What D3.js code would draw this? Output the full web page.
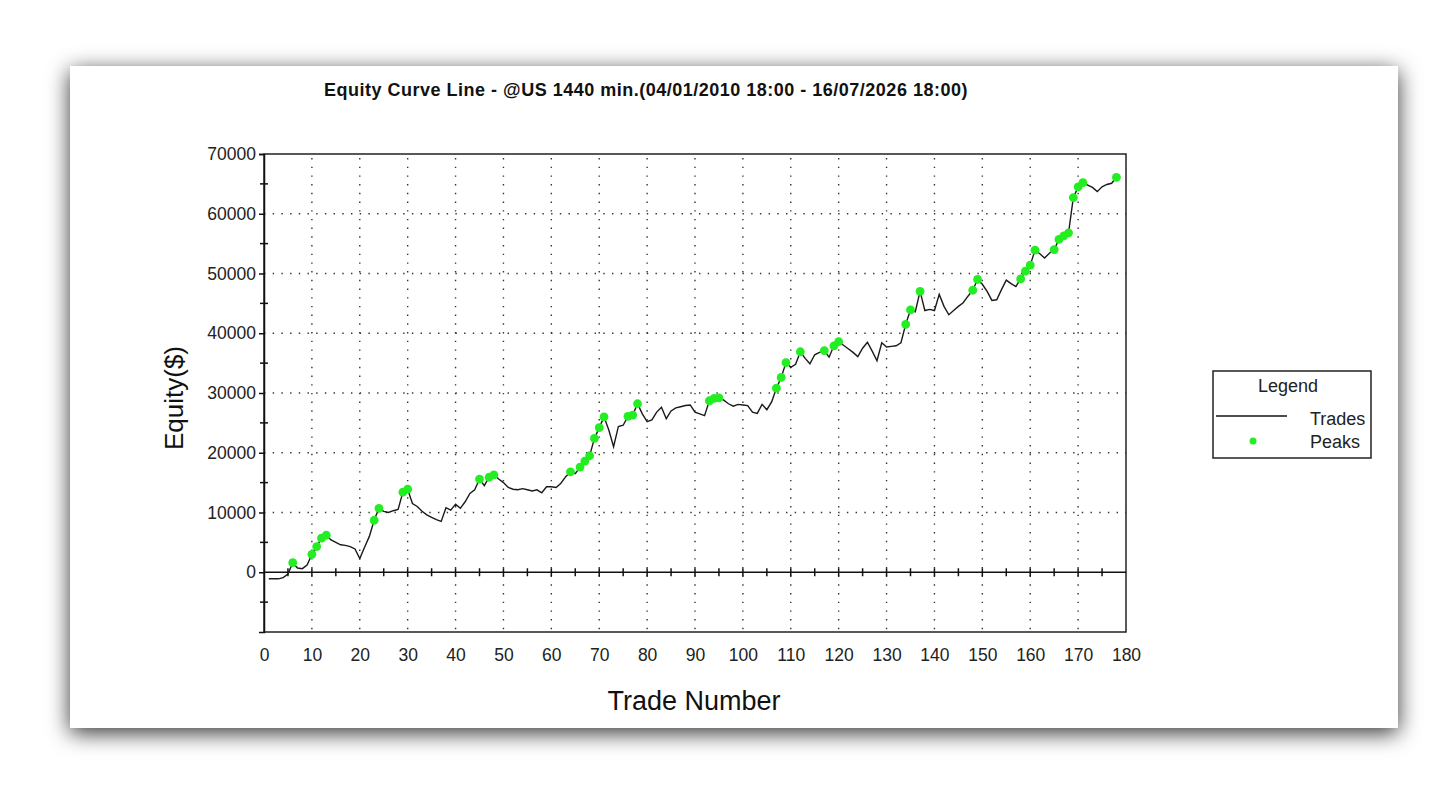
<!DOCTYPE html>
<html>
<head>
<meta charset="utf-8">
<script src="https://cdnjs.cloudflare.com/ajax/libs/d3/7.8.5/d3.min.js"></script>
<style>
  html, body { margin: 0; padding: 0; background: #fff; }
  svg { display: block; font-family: "Liberation Sans", Arial, sans-serif; }
</style>
</head>
<body>
<div id="chart"></div>
<script>
// Equity per trade (trade 1..178)
const equity = [
  -1100, -1100, -1100, -900, -300, 1600, 700, 600, 1200, 3000,
  4300, 5700, 6200, 5400, 5000, 4600, 4500, 4300, 3900, 2300,
  4200, 6000, 8700, 10700, 10200, 10000, 10300, 10500, 13400, 13900,
  11500, 11000, 10200, 9600, 9200, 8800, 8500, 10800, 10400, 11400,
  10700, 11800, 13200, 13800, 15600, 14500, 15900, 16300, 15600, 15000,
  14200, 13900, 13800, 14000, 13800, 13600, 13800, 13300, 14300, 14300,
  14200, 14900, 16000, 16800, 16500, 17600, 18600, 19500, 22400, 24200,
  26000, 23800, 21000, 24400, 24600, 26100, 26300, 28200, 26500, 25200,
  25500, 26800, 27600, 25700, 27000, 27500, 27700, 27900, 28000, 26800,
  26500, 26200, 28700, 29100, 29200, 28800, 28200, 27800, 28100, 28000,
  27900, 26800, 26600, 28100, 27200, 28500, 30800, 32600, 35100, 34300,
  34800, 36900, 35800, 34900, 36400, 36800, 37100, 36000, 37900, 38600,
  38000, 37400, 36800, 36100, 37500, 38500, 37000, 35400, 38400, 37700,
  37800, 37900, 38400, 41500, 43900, 43600, 47000, 43800, 44000, 43800,
  46500, 44500, 43100, 43800, 44500, 45100, 46200, 47200, 49000, 48200,
  47000, 45500, 45600, 47300, 48900, 48300, 47800, 49100, 50400, 51400,
  53900, 53300, 52600, 53400, 54000, 55700, 56300, 56800, 62700, 64500,
  65200, 64800, 64400, 63700, 64500, 64900, 65100, 66100
];
const trades = equity.map((_, i) => i + 1);

// trades that set a new equity high (green dots)
const peakTrades = [6, 10, 11, 12, 13, 23, 24, 29, 30, 45, 47, 48, 64, 66, 67, 68, 69, 70, 71,
  76, 77, 78, 93, 94, 95, 107, 108, 109, 112, 117, 119, 120, 134, 135, 137, 148, 149,
  158, 159, 160, 161, 165, 166, 167, 168, 169, 170, 171, 178];

const xTicks = d3.range(0, 181, 10);
const yTicks = d3.range(0, 70001, 10000);

const titleText = "Equity Curve Line - @US 1440 min.(04/01/2010 18:00 - 16/07/2026 18:00)";
const legendItems = ["Trades", "Peaks"];

const W = 1456, H = 792;
const plot = { left: 264, right: 1126, top: 154, bottom: 632 };

const svg = d3.select("#chart").append("svg")
  .attr("width", W)
  .attr("height", H);

// card with shadow
const defs = svg.append("defs");
const f = defs.append("filter").attr("id", "shadow")
  .attr("x", "-6%").attr("y", "-10%").attr("width", "112%").attr("height", "124%");
f.append("feDropShadow")
  .attr("dx", 0).attr("dy", 5)
  .attr("stdDeviation", 11)
  .attr("flood-color", "#000")
  .attr("flood-opacity", 0.8);

svg.append("rect")
  .attr("x", 70).attr("y", 66)
  .attr("width", 1328).attr("height", 662)
  .attr("fill", "#fff")
  .attr("filter", "url(#shadow)");

const x = d3.scaleLinear().domain([0, 180]).range([plot.left, plot.right]);
const y = d3.scaleLinear().domain([-10000, 70000]).range([plot.bottom, plot.top]);

// dotted grid
const grid = svg.append("g")
  .attr("stroke", "#333")
  .attr("stroke-width", 1.4)
  .attr("stroke-dasharray", "1.4,7.3");

grid.selectAll(".vg")
  .data(xTicks.filter(d => d > 0 && d < 180))
  .enter().append("line")
  .attr("x1", d => x(d)).attr("x2", d => x(d))
  .attr("y1", plot.top + 4).attr("y2", plot.bottom);

grid.selectAll(".hg")
  .data(yTicks.filter(d => d > 0 && d < 70000))
  .enter().append("line")
  .attr("x1", plot.left).attr("x2", plot.right)
  .attr("y1", d => y(d)).attr("y2", d => y(d));

// plot frame
svg.append("rect")
  .attr("x", plot.left).attr("y", plot.top)
  .attr("width", plot.right - plot.left)
  .attr("height", plot.bottom - plot.top)
  .attr("fill", "none")
  .attr("stroke", "#222")
  .attr("stroke-width", 1.5);

// y axis: labels on majors, crossing ticks every 5000
const yAxis = svg.append("g")
  .attr("transform", `translate(${plot.left},0)`)
  .call(d3.axisLeft(y).tickValues(yTicks).tickSize(5).tickPadding(3).tickFormat(d3.format("d")));
yAxis.select(".domain").attr("stroke", "#111").attr("stroke-width", 1.5);
yAxis.selectAll(".tick line").attr("stroke", "#111").attr("stroke-width", 1.5);
yAxis.selectAll("text")
  .attr("font-size", 17.5)
  .attr("fill", "#222")
  .attr("font-family", "'Liberation Sans', Arial, sans-serif");

svg.append("g")
  .selectAll("line")
  .data(d3.range(-5000, 70000, 10000))
  .enter().append("line")
  .attr("x1", plot.left - 4).attr("x2", plot.left + 4)
  .attr("y1", d => y(d)).attr("y2", d => y(d))
  .attr("stroke", "#111").attr("stroke-width", 1.5);

// zero line with crossing ticks every 5 trades
svg.append("line")
  .attr("x1", plot.left).attr("x2", plot.right)
  .attr("y1", y(0)).attr("y2", y(0))
  .attr("stroke", "#111").attr("stroke-width", 1.5);

svg.append("g")
  .selectAll("line")
  .data(d3.range(5, 180, 5))
  .enter().append("line")
  .attr("x1", d => x(d)).attr("x2", d => x(d))
  .attr("y1", y(0) - 4).attr("y2", y(0) + 4)
  .attr("stroke", "#111").attr("stroke-width", 1.5);

// x tick labels under the plot
const xAxis = svg.append("g")
  .attr("transform", `translate(0,${plot.bottom})`)
  .call(d3.axisBottom(x).tickValues(xTicks).tickSize(0).tickPadding(17));
xAxis.select(".domain").remove();
xAxis.selectAll("text")
  .attr("font-size", 17.5)
  .attr("fill", "#222")
  .attr("font-family", "'Liberation Sans', Arial, sans-serif");

// equity line
const line = d3.line()
  .x((d, i) => x(trades[i]))
  .y(d => y(d));

svg.append("path")
  .datum(equity)
  .attr("fill", "none")
  .attr("stroke", "#1a1a1a")
  .attr("stroke-width", 1.4)
  .attr("d", line);

// peaks
svg.append("g")
  .selectAll("circle")
  .data(peakTrades)
  .enter().append("circle")
  .attr("cx", d => x(d))
  .attr("cy", d => y(equity[d - 1]))
  .attr("r", 4.4)
  .attr("fill", "#22ee22");

// titles
svg.append("text")
  .attr("x", 646).attr("y", 96)
  .attr("text-anchor", "middle")
  .attr("font-size", 18)
  .attr("letter-spacing", 0.5)
  .attr("font-weight", "bold")
  .attr("fill", "#111")
  .text(titleText);

svg.append("text")
  .attr("x", 694).attr("y", 710)
  .attr("text-anchor", "middle")
  .attr("font-size", 27)
  .attr("fill", "#111")
  .text("Trade Number");

svg.append("text")
  .attr("transform", "translate(183,398) rotate(-90)")
  .attr("text-anchor", "middle")
  .attr("font-size", 26)
  .attr("fill", "#111")
  .text("Equity($)");

// legend
const lg = svg.append("g");
lg.append("rect")
  .attr("x", 1213).attr("y", 371)
  .attr("width", 158).attr("height", 87)
  .attr("fill", "#fff")
  .attr("stroke", "#222")
  .attr("stroke-width", 1.5);
lg.append("text")
  .attr("x", 1288).attr("y", 392)
  .attr("text-anchor", "middle")
  .attr("font-size", 18)
  .attr("fill", "#222")
  .text("Legend");
lg.append("line")
  .attr("x1", 1216).attr("x2", 1287)
  .attr("y1", 416).attr("y2", 416)
  .attr("stroke", "#111").attr("stroke-width", 1.3);
lg.append("circle")
  .attr("cx", 1253).attr("cy", 441)
  .attr("r", 3.5)
  .attr("fill", "#22ee22");
lg.selectAll(".lt")
  .data(legendItems)
  .enter().append("text")
  .attr("x", 1310)
  .attr("y", (d, i) => 425 + i * 23)
  .attr("font-size", 18)
  .attr("fill", "#222")
  .text(d => d);
</script>
</body>
</html>
